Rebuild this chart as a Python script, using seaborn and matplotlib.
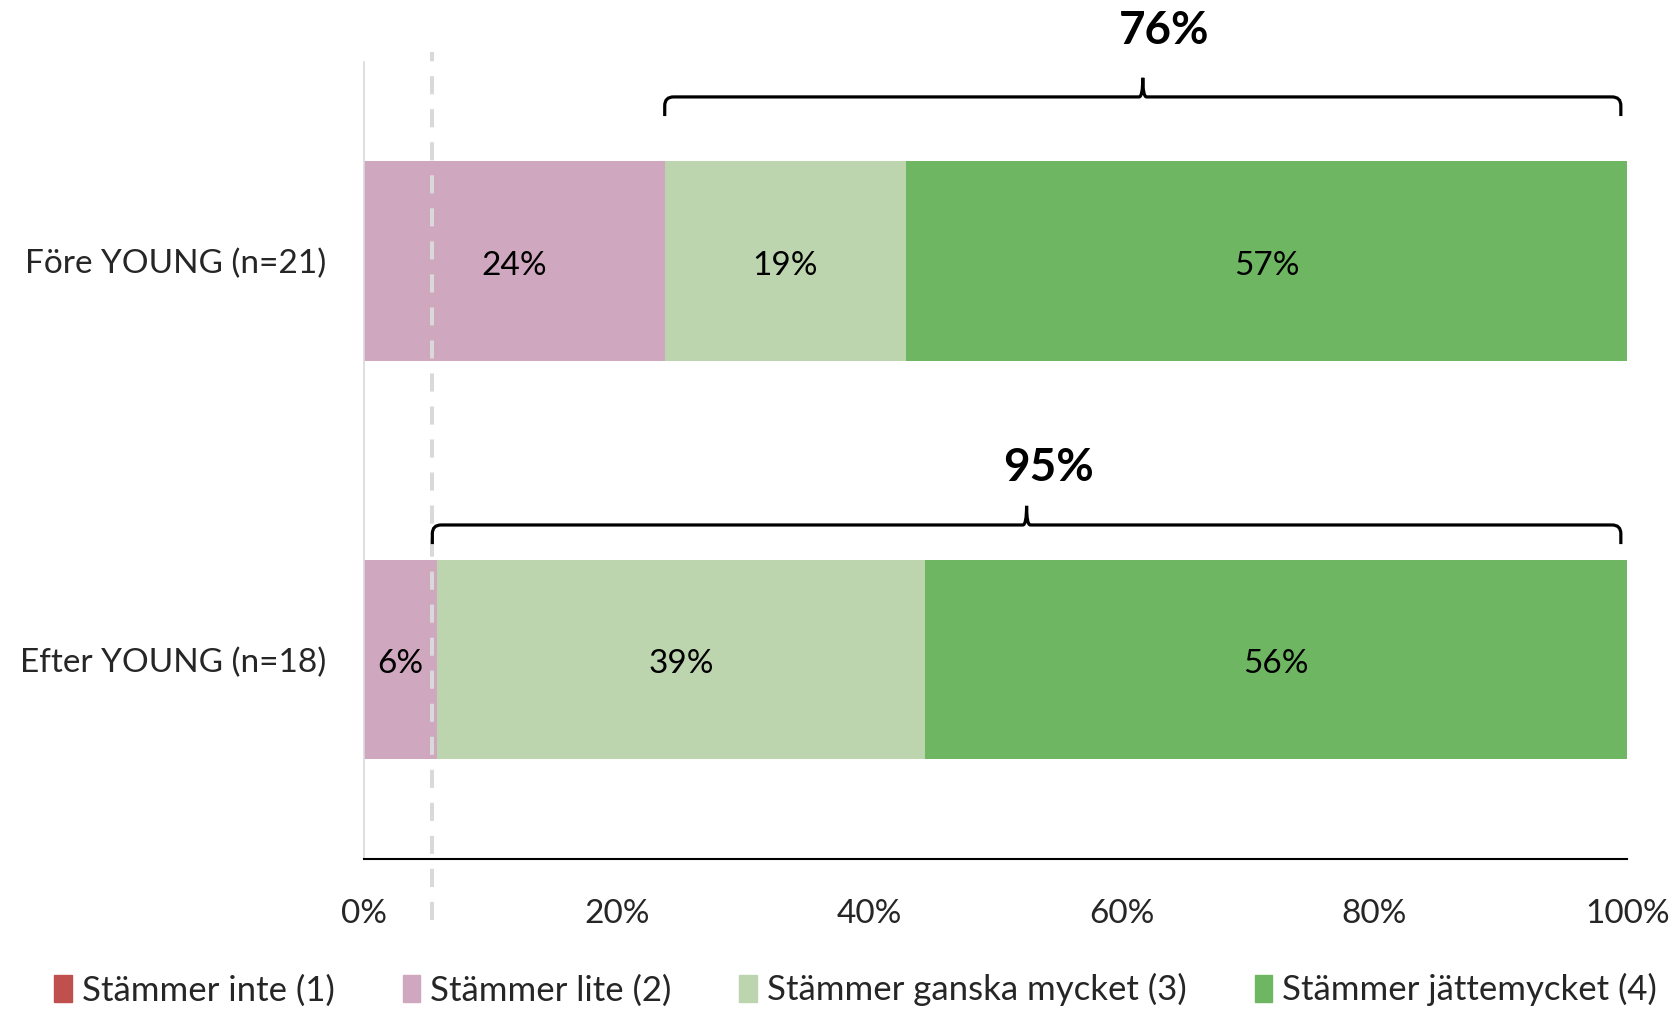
import numpy as np
import matplotlib
matplotlib.use("Agg")
import matplotlib.pyplot as plt
from matplotlib.path import Path
from matplotlib.patches import PathPatch
import seaborn as sns

# data (percent of respondents)
groups = ["Före YOUNG (n=21)", "Efter YOUNG (n=18)"]
answers = ["Stämmer inte (1)", "Stämmer lite (2)",
           "Stämmer ganska mycket (3)", "Stämmer jättemycket (4)"]
fore = [0.0, 23.8, 19.1, 57.1]
efter = [0.0, 5.8, 38.6, 55.6]
colors = ["#C0504D", "#CFA7BE", "#BDD5AE", "#6FB662"]

sns.set_theme(style="white")
plt.rcParams["font.family"] = ["Lato", "DejaVu Sans"]
fs = 24

values = np.array([fore, efter])
cum = values.cumsum(axis=1)

fig = plt.figure(figsize=(16.78, 10.09), dpi=100)
ax = fig.add_axes([0.217, 0.1487, 0.7527, 0.79])

# stacked bars: draw cumulative totals from the back to the front
for j in range(len(answers) - 1, -1, -1):
    sns.barplot(x=cum[:, j], y=groups, color=colors[j], orient="h",
                width=0.5, saturation=1, linewidth=0, ax=ax, zorder=2)

# segment labels
for i in range(len(groups)):
    for j in range(len(answers)):
        v = values[i, j]
        if v > 0:
            ax.text(cum[i, j] - v / 2, i + 0.012, f"{v:.0f}%", ha="center",
                    va="center", fontsize=fs, color="black", zorder=5)

ax.set_xlim(0, 100)
ax.set_ylim(1.5, -0.5)
ax.set_xticks(np.arange(0, 101, 20))
ax.set_xticklabels([f"{t}%" for t in range(0, 101, 20)])
ax.set_xlabel("")
ax.set_ylabel("")
ax.tick_params(axis="x", direction="inout", length=13, width=1.5,
               color="black", labelsize=fs, pad=22)
ax.tick_params(axis="y", length=0, labelsize=fs, pad=27)
for side in ["top", "right"]:
    ax.spines[side].set_visible(False)
ax.spines["bottom"].set_color("black")
ax.spines["bottom"].set_linewidth(1.5)
ax.spines["left"].set_color("#D9D9D9")
ax.spines["left"].set_linewidth(1.2)

# dashed reference line near the end of the "lite" segment after YOUNG
ax.axvline(cum[1, 1] - 0.4, ymin=-0.077, ymax=1.0125, color="#D9D9D9",
           lw=2.9, ls=(0, (4.5, 3.7)), clip_on=False, zorder=3)


def brace(x0, x1, y_line, drop):
    rx, ry = 0.7, 0.022
    xm = (x0 + x1) / 2
    tip = y_line - drop
    verts = [(x0, y_line + drop), (x0, y_line + ry), (x0, y_line),
             (x0 + rx, y_line), (xm - 0.3, y_line), (xm, y_line),
             (xm, tip), (xm, y_line), (xm + 0.3, y_line),
             (x1 - rx, y_line), (x1, y_line), (x1, y_line + ry),
             (x1, y_line + drop)]
    codes = [Path.MOVETO, Path.LINETO, Path.CURVE3, Path.CURVE3,
             Path.LINETO, Path.CURVE3, Path.CURVE3, Path.CURVE3,
             Path.CURVE3, Path.LINETO, Path.CURVE3, Path.CURVE3,
             Path.LINETO]
    ax.add_patch(PathPatch(Path(verts, codes), fill=False, lw=2.3,
                           color="black", clip_on=False, zorder=6))
    return xm


totals = [int(round(fore[2])) + int(round(fore[3])),
          int(round(efter[2])) + int(round(efter[3]))]
brace_start = [cum[0, 1], cum[1, 1] - 0.4]
brace_y = [-0.412, 0.662]
label_y = [-0.578, 0.52]
for i in range(len(groups)):
    xm = brace(brace_start[i], 99.5, brace_y[i], 0.048)
    ax.text(xm + 1.7, label_y[i], f"{totals[i]}%", ha="center", va="center",
            fontsize=33, fontweight="bold", color="black")

handles = [plt.Rectangle((0, 0), 1, 1, color=c) for c in colors]
fig.legend(handles, answers, loc="center", bbox_to_anchor=(0.51, 0.019),
           ncol=4, frameon=False, fontsize=25, handlelength=0.5,
           handleheight=0.8, handletextpad=0.3, columnspacing=1.95)

fig.savefig("out.png", dpi=100)
